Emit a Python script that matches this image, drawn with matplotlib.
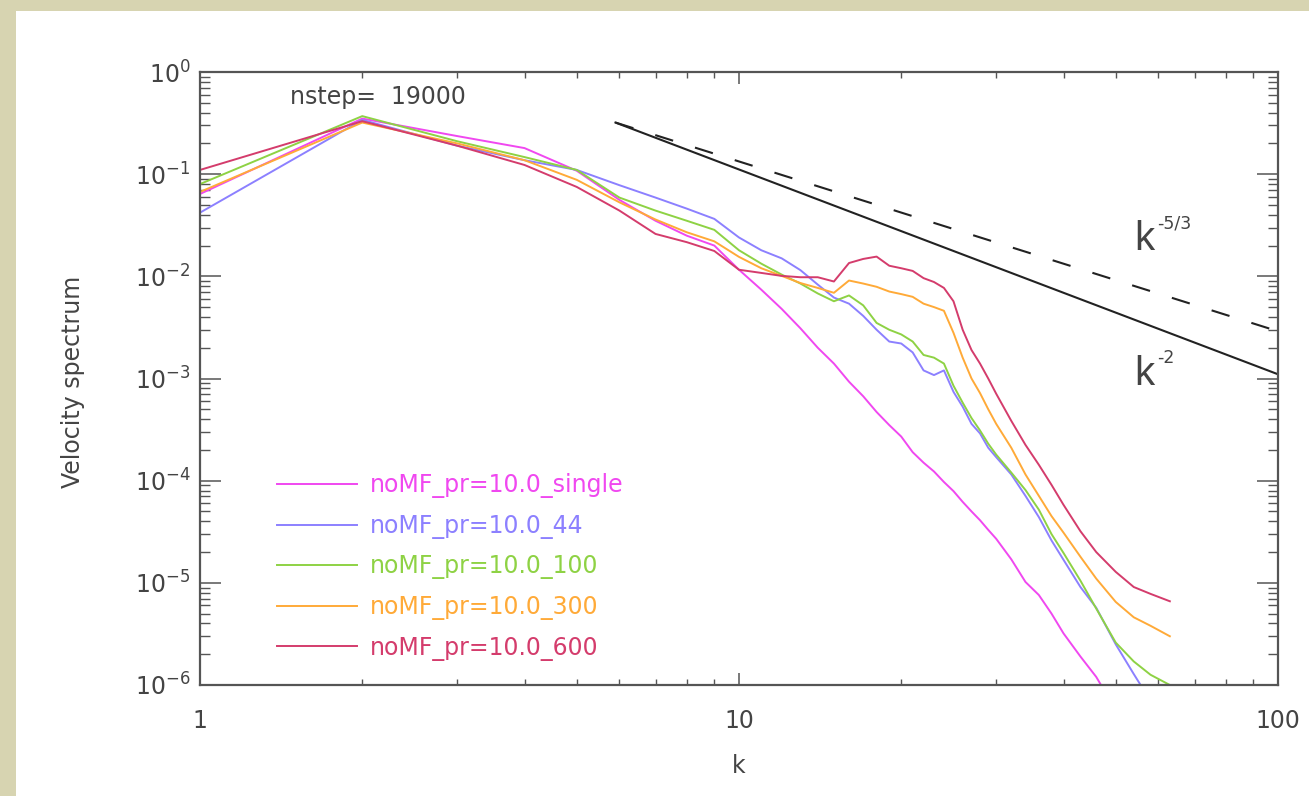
import numpy as np
import matplotlib
matplotlib.use('Agg')
import matplotlib.pyplot as plt
from matplotlib.ticker import LogLocator, FuncFormatter, NullFormatter
from matplotlib.patches import Rectangle

# wavenumbers of the shell-averaged spectra
k = [1, 2, 3, 4, 5, 6, 7, 8, 9, 10, 11, 12, 13, 14, 15, 16, 17, 18, 19, 20,
     21, 22, 23, 24, 25, 26, 27, 28, 29, 30, 32, 34, 36, 38, 40, 43, 46, 50,
     54, 58, 63]

spec_single = [0.064, 0.35, 0.236, 0.18, 0.108, 0.056, 0.035, 0.025, 0.020, 0.0116,
               0.0074, 0.0048, 0.0031, 0.0020, 0.0014, 9.3e-4, 6.7e-4, 4.7e-4, 3.5e-4, 2.7e-4,
               1.9e-4, 1.5e-4, 1.23e-4, 9.7e-5, 7.9e-5, 6.2e-5, 5.0e-5, 4.1e-5, 3.3e-5, 2.7e-5,
               1.7e-5, 1.02e-5, 7.6e-6, 5.0e-6, 3.2e-6, 1.9e-6, 1.2e-6, 5.7e-7,
               3.0e-7, 1.8e-7, 1.0e-7]

spec_44 = [0.042, 0.34, 0.19, 0.137, 0.110, 0.078, 0.059, 0.046, 0.0365, 0.024,
           0.018, 0.015, 0.0115, 0.0083, 0.0062, 0.0054, 0.0041, 0.0030, 0.0023, 0.0022,
           0.0018, 0.0012, 0.00108, 0.0012, 7.4e-4, 5.3e-4, 3.6e-4, 2.9e-4, 2.1e-4, 1.7e-4,
           1.15e-4, 7.1e-5, 4.4e-5, 2.6e-5, 1.68e-5, 9.1e-6, 5.7e-6, 2.5e-6,
           1.28e-6, 7.0e-7, 4.0e-7]

spec_100 = [0.080, 0.37, 0.21, 0.147, 0.110, 0.059, 0.044, 0.035, 0.0285, 0.018,
            0.0133, 0.0104, 0.0085, 0.0068, 0.0057, 0.0065, 0.0052, 0.0035, 0.0030, 0.0027,
            0.0023, 0.0017, 0.0016, 0.0014, 8.5e-4, 5.8e-4, 4.1e-4, 3.1e-4, 2.3e-4, 1.8e-4,
            1.2e-4, 8.1e-5, 5.2e-5, 3.0e-5, 1.96e-5, 1.05e-5, 5.6e-6, 2.6e-6,
            1.7e-6, 1.26e-6, 1.0e-6]

spec_300 = [0.067, 0.32, 0.20, 0.137, 0.088, 0.053, 0.036, 0.027, 0.022, 0.0155,
            0.012, 0.0101, 0.0086, 0.0077, 0.0069, 0.0091, 0.0085, 0.0079, 0.0071, 0.0067,
            0.0063, 0.0054, 0.0050, 0.0046, 0.0028, 0.0016, 0.0010, 7.2e-4, 5.0e-4, 3.6e-4,
            2.1e-4, 1.15e-4, 7.1e-5, 4.5e-5, 3.1e-5, 1.8e-5, 1.1e-5, 6.5e-6,
            4.6e-6, 3.8e-6, 3.0e-6]

spec_600 = [0.11, 0.33, 0.19, 0.123, 0.075, 0.044, 0.026, 0.0216, 0.0177, 0.0116,
            0.0108, 0.0101, 0.0098, 0.0098, 0.0089, 0.0135, 0.0148, 0.0156, 0.0127, 0.0120,
            0.0113, 0.0096, 0.0088, 0.0077, 0.0057, 0.0030, 0.0019, 0.0014, 0.0010, 7.1e-4,
            3.85e-4, 2.24e-4, 1.43e-4, 9.1e-5, 5.8e-5, 3.2e-5, 2.0e-5, 1.28e-5,
            9.1e-6, 7.8e-6, 6.6e-6]

run_names = ['noMF_pr=10.0_single', 'noMF_pr=10.0_44', 'noMF_pr=10.0_100',
             'noMF_pr=10.0_300', 'noMF_pr=10.0_600']
run_colors = ['#f048f0', '#8c80ff', '#8ed244', '#ffaa38', '#d43c6c']

# reference power laws, end points only
ref_k = [5.9, 100.0]
ref_kolmogorov = [0.32, 2.9e-3]   # k^-5/3
ref_burgers = [0.32, 1.1e-3]      # k^-2

xticks = [1, 10, 100]
yticks = [1e-6, 1e-5, 1e-4, 1e-3, 1e-2, 1e-1, 1e0]

nstep = 19000

txt_color = '#444444'
axis_color = '#555555'

W, H = 1309, 796
fig = plt.figure(figsize=(W / 100, H / 100), dpi=100, facecolor='#d7d4b1')
fig.patches.append(Rectangle((16 / W, 0), 1, (H - 11) / H, transform=fig.transFigure,
                             facecolor='white', edgecolor='none', zorder=-10))

ax = fig.add_axes([200 / W, (H - 685) / H, 1078 / W, 613 / H])
ax.set_zorder(5)

series = [spec_single, spec_44, spec_100, spec_300, spec_600]
for vals, name, col in zip(series, run_names, run_colors):
    ax.plot(k, vals, color=col, lw=1.4, label=name)

ax.plot(ref_k, ref_burgers, color='#222222', lw=1.5)
ax.plot(ref_k, ref_kolmogorov, color='#222222', lw=1.5, dashes=(9, 11))

ax.set_xscale('log')
ax.set_yscale('log')
ax.set_xlim(1, 100)
ax.set_ylim(1e-6, 1)

ax.set_xticks(xticks)
ax.set_yticks(yticks)
ax.xaxis.set_major_formatter(FuncFormatter(lambda v, _: f'{v:g}'))
ax.xaxis.set_minor_locator(LogLocator(base=10, subs=np.arange(2, 10), numticks=20))
ax.xaxis.set_minor_formatter(NullFormatter())
ax.yaxis.set_minor_locator(LogLocator(base=10, subs=np.arange(2, 10), numticks=20))
ax.yaxis.set_minor_formatter(NullFormatter())
ax.set_xlim(1, 100)
ax.set_ylim(1e-6, 1)

ax.tick_params(which='both', direction='in', top=True, right=True,
               color=axis_color, labelcolor=txt_color)
ax.tick_params(axis='x', which='major', length=8.6, width=1.1, pad=17, labelsize=17)
ax.tick_params(axis='x', which='minor', length=4.3, width=1.0)
ax.tick_params(axis='y', which='major', length=15, width=1.1, pad=7, labelsize=17)
ax.tick_params(axis='y', which='minor', length=7.5, width=1.0)
for sp in ax.spines.values():
    sp.set_color(axis_color)
    sp.set_linewidth(1.6)

ax.set_xlabel('k', fontsize=17, color=txt_color)
ax.set_ylabel('Velocity spectrum', fontsize=17, color=txt_color)
ax.xaxis.set_label_coords(0.5, -0.112)
ax.yaxis.set_label_coords(-0.107, 0.494)

ax.text(0.0835, 0.959, f'nstep=  {nstep}', transform=ax.transAxes, fontsize=17,
        color=txt_color, va='center', ha='left')

# slope labels: large k with a small exponent
for (xa, ya, expo) in [(0.867, 0.7096, '-5/3'), (0.867, 0.4894, '-2')]:
    ax.text(xa, ya, 'k', transform=ax.transAxes, fontsize=29,
            family='Liberation Sans', color=txt_color, va='baseline', ha='left')
    ax.annotate(expo, xy=(xa, ya), xycoords='axes fraction', xytext=(16, 15.5),
                textcoords='offset points', fontsize=12.5, color=txt_color,
                va='baseline', ha='left')

leg = ax.legend(loc='upper left', bbox_to_anchor=(0.0714, 0.3455), frameon=False,
                fontsize=17, handlelength=3.4, handletextpad=0.55, labelspacing=0.66,
                borderpad=0, borderaxespad=0, labelcolor='linecolor')

fig.savefig('out.png', dpi=100, facecolor=fig.get_facecolor())
